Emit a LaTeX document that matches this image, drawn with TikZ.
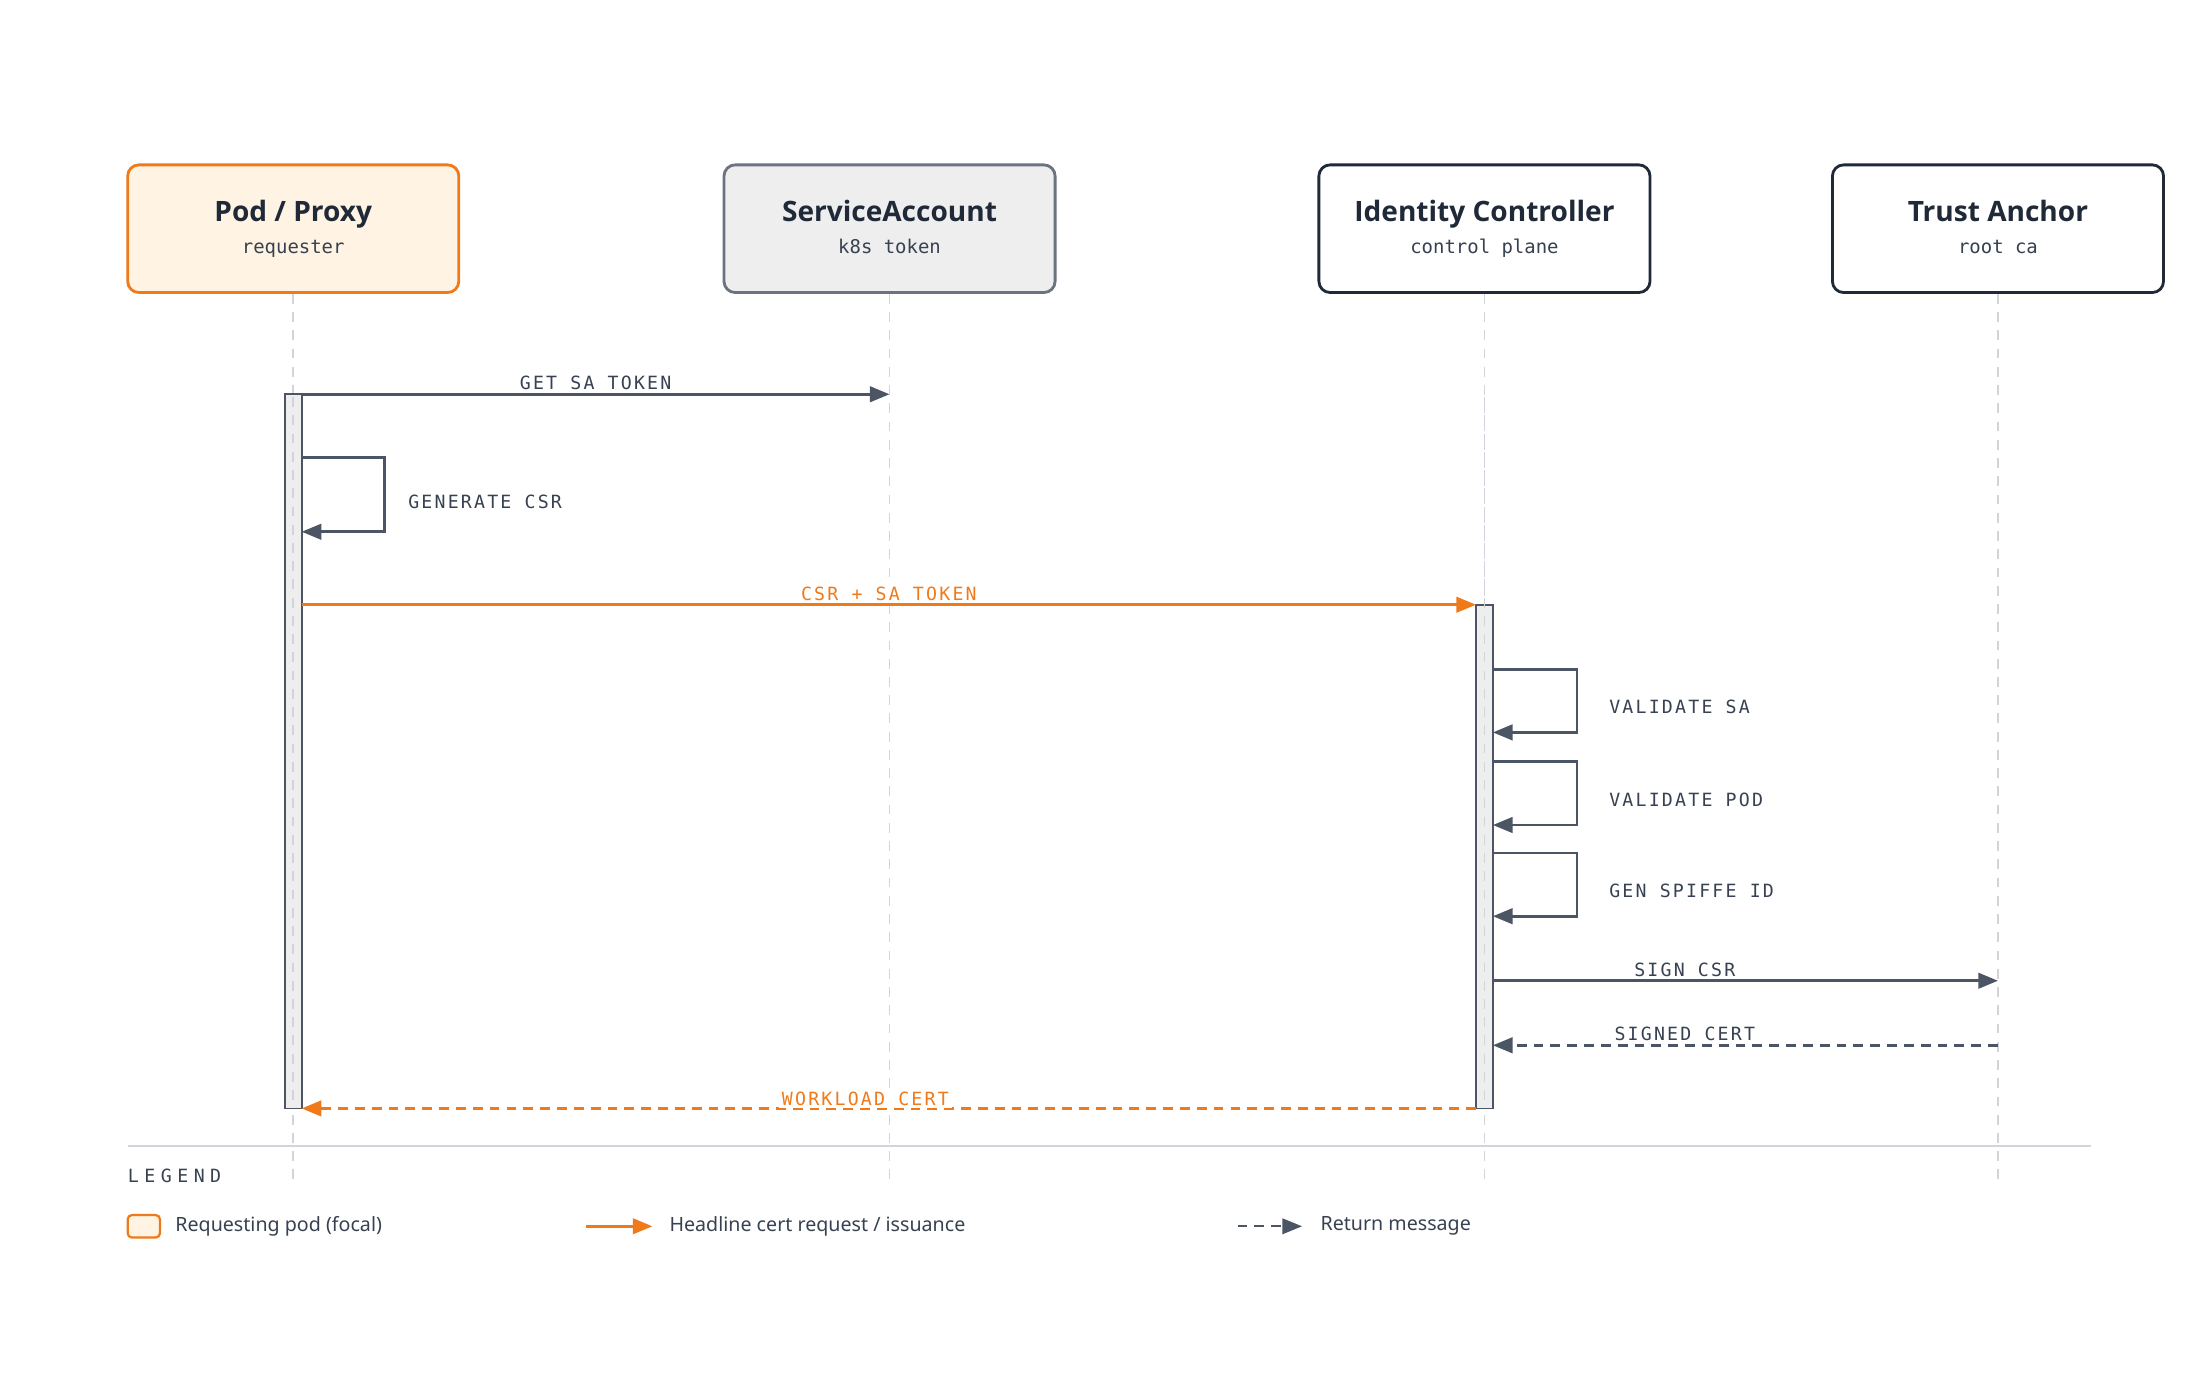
\documentclass[tikz,border=0pt]{standalone}
\usepackage{fontspec}
\setmainfont{Noto Sans}
\newfontfamily\titlefont{Open Sans}
\newfontfamily\lblfont[LetterSpace=12]{DejaVu Sans Mono}
\newfontfamily\legfont[LetterSpace=30]{DejaVu Sans Mono}
\newfontfamily\subfont{DejaVu Sans Mono}
\usetikzlibrary{
	positioning,    % posizionamento relativo
	arrows.meta     % punte di freccia
}
\definecolor{arancio}{HTML}{F07A1A}
\definecolor{crema}{HTML}{FFF4E3}
\definecolor{grigio}{HTML}{EEEEEF}
\definecolor{bordogrigio}{HTML}{6B7280}
\definecolor{scuro}{HTML}{1F2937}
\definecolor{freccia}{HTML}{4B5563}
\definecolor{testo}{HTML}{374151}
\definecolor{linea}{HTML}{D1D5DB}
\newcommand{\titolo}[2]{{\titlefont\fontsize{20}{24}\selectfont\bfseries\color{scuro}\vphantom{Py}#1}\\[7pt]{\subfont\fontsize{13.5}{16}\selectfont\color{testo}\vphantom{pk}#2}}

\begin{document}
\begin{tikzpicture}[
			x=1pt, y=-1pt,
			partecipante/.style={draw=scuro, line width=2pt, fill=white, rounded corners=8pt,
				minimum width=236pt, minimum height=91pt, align=center, inner sep=0pt},
			vita/.style={draw=linea, line width=1.3pt, dash pattern=on 7pt off 6pt},
			attivo/.style={draw=freccia, fill=grigio, line width=1.3pt},
			msg/.style={draw=freccia, line width=2pt, -{Triangle[length=14pt, width=11pt]}},
			ritorno/.style={msg, dash pattern=on 7pt off 5pt},
			etichetta/.style={fill=white, inner sep=2pt, text=testo, font=\lblfont\fontsize{13}{15}\selectfont},
			]
			
			% --- Bordo ---
			\useasboundingbox (0,0) rectangle (1568,980);
			
			% --- Partecipanti ---
			\node[partecipante, draw=arancio, fill=crema] (pod) at (209,163) {\titolo{Pod / Proxy}{requester}};
			\node[partecipante, draw=bordogrigio, fill=grigio] (sa) at (634,163) {\titolo{ServiceAccount}{k8s token}};
			\node[partecipante] (ctrl) at (1058,163) {\titolo{Identity Controller}{control plane}};
			\node[partecipante] (ta) at (1424,163) {\titolo{Trust Anchor}{root ca}};
			
			% --- Linee di vita ---
			\foreach \p in {pod, sa, ctrl, ta}
			\draw[vita] (\p.south) -- (\p.south |- 0,840);
			
			% --- Attivazioni ---
			\draw[attivo] (203,281) rectangle (215,790);
			\draw[attivo] (1052,431) rectangle (1064,790);
			\foreach \p in {pod, ctrl}
			\draw[vita] (\p.south |- 0,283) -- (\p.south |- 0,788);
			
			% --- Messaggi ---
			\coordinate (podR) at (215,0);
			\coordinate (ctrlL) at (1052,0);
			\coordinate (ctrlR) at (1064,0);
			
			\draw[msg] (podR |- 0,281) -- (sa.south |- 0,281) coordinate (m1)
			node[etichetta, midway, yshift=8pt] {GET SA TOKEN};
			
			\draw[msg] (podR |- 0,326) -- ++(59,0) -- ++(0,53)
			node[etichetta, right=14pt, pos=0.6, fill=none] {GENERATE CSR} -- (podR |- 0,379);
			
			\draw[msg, draw=arancio] (podR |- 0,431) -- (ctrlL |- 0,431)
			node[etichetta, midway, yshift=8pt, text=arancio] {CSR + SA TOKEN};
			
			\foreach \y/\testo in {477/VALIDATE SA, 543/VALIDATE POD, 608/GEN SPIFFE ID}
			\draw[msg] (ctrlR |- 0,\y) -- ++(60,0) -- ++(0,45)
			node[etichetta, right=20pt, pos=0.6, fill=none] {\testo} -- (ctrlR |- 0,\y+45);
			
			\draw[msg] (ctrlR |- 0,699) -- (ta.south |- 0,699)
			node[etichetta, pos=0.38, yshift=8pt] {SIGN CSR};
			
			\draw[ritorno] (ta.south |- 0,745) -- (ctrlR |- 0,745)
			node[etichetta, pos=0.62, yshift=8pt] {SIGNED CERT};
			
			\draw[ritorno, draw=arancio] (ctrlL |- 0,790) -- (podR |- 0,790)
			node[etichetta, pos=0.52, yshift=7pt, text=arancio] {WORKLOAD CERT};
			
			% --- Legenda ---
			\draw[linea, line width=1.2pt] (91,817) -- (1490,817);
			\node[anchor=west, inner sep=0pt, text=testo, font=\legfont\fontsize{13}{15}\selectfont] (leg) at (91,838) {LEGEND};
			
			\node[draw=arancio, fill=crema, line width=1.6pt, rounded corners=3pt,
			minimum width=23pt, minimum height=16pt, inner sep=0pt] (legpod) at (102.5,874) {};
			\node[anchor=west, text=testo, font=\fontsize{14}{16}\selectfont, inner sep=0pt, right=10pt of legpod] (legpodt) {Requesting pod (focal)};
			
			\coordinate (la1) at (418,874);
			\coordinate (la2) at (465,874);
			\draw[msg, draw=arancio] (la1) -- (la2);
			\node[anchor=west, text=testo, font=\fontsize{14}{16}\selectfont, inner sep=0pt, right=12pt of la2] (legat) {Headline cert request / issuance};
			
			\coordinate (lr1) at (882,874);
			\coordinate (lr2) at (928,874);
			\draw[ritorno, line width=1.6pt] (lr1) -- (lr2);
			\node[anchor=west, text=testo, font=\fontsize{14}{16}\selectfont, inner sep=0pt, right=13pt of lr2] (legrt) {Return message};
			
		\end{tikzpicture}
\end{document}
